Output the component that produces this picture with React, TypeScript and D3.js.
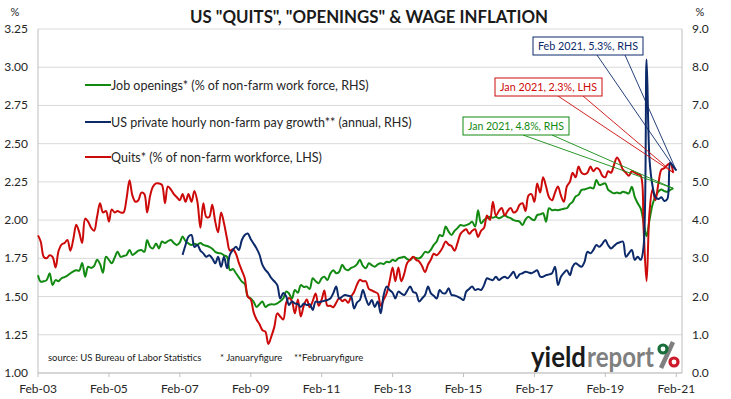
import React from 'react'
import * as d3 from 'd3'

// monthly, Feb 2003 .. Jan 2021 (% of non-farm workforce, LHS)
const quits = [
  1.90, 1.86, 1.76, 1.75, 1.77, 1.76, 1.69, 1.80, 1.84, 1.85, 1.87, 1.80,
  1.88, 1.97, 1.92, 1.85, 2.01, 1.99, 1.95, 1.93, 2.02, 2.11, 2.05, 2.06,
  1.99, 2.07, 2.05, 2.06, 2.05, 2.05, 2.14, 2.26, 2.16, 2.12, 2.13, 2.18,
  2.17, 2.05, 2.16, 2.22, 2.24, 2.24, 2.23, 2.11, 2.22, 2.20, 2.17, 2.15,
  2.13, 2.17, 2.12, 2.17, 2.12, 2.19, 2.12, 1.95, 2.11, 2.02, 2.02, 2.10,
  1.99, 1.92, 2.05, 1.98, 1.88, 1.80, 1.81, 1.78, 1.72, 1.67, 1.62, 1.50,
  1.48, 1.40, 1.35, 1.32, 1.28, 1.27, 1.19, 1.24, 1.30, 1.39, 1.37, 1.35,
  1.46, 1.49, 1.47, 1.39, 1.48, 1.37, 1.44, 1.48, 1.43, 1.47, 1.52, 1.44,
  1.48, 1.54, 1.44, 1.44, 1.43, 1.46, 1.49, 1.47, 1.48, 1.46, 1.50, 1.53,
  1.58, 1.61, 1.60, 1.60, 1.55, 1.54, 1.53, 1.52, 1.44, 1.48, 1.52, 1.60,
  1.69, 1.60, 1.69, 1.60, 1.65, 1.72, 1.74, 1.76, 1.74, 1.73, 1.70, 1.66,
  1.71, 1.74, 1.78, 1.77, 1.79, 1.82, 1.86, 1.84, 1.83, 1.80, 1.85, 1.91,
  1.93, 1.94, 1.91, 1.93, 1.94, 1.89, 1.93, 1.95, 2.03, 2.00, 2.12, 2.03,
  2.06, 2.08, 2.03, 2.06, 2.08, 2.05, 2.06, 2.10, 2.11, 2.06, 2.16, 2.17,
  2.12, 2.24, 2.18, 2.28, 2.22, 2.15, 2.13, 2.18, 2.22, 2.16, 2.12, 2.22,
  2.25, 2.31, 2.28, 2.35, 2.31, 2.30, 2.31, 2.35, 2.32, 2.34, 2.33, 2.29,
  2.28, 2.32, 2.31, 2.36, 2.41, 2.38, 2.33, 2.31, 2.29, 2.32, 2.31, 2.30,
  2.29, 1.95, 1.60, 2.05, 2.20, 2.13, 2.24, 2.33, 2.34, 2.36, 2.37, 2.31,
]

// monthly, Feb 2003 .. Jan 2021 (% of non-farm work force, RHS)
const openings = [
  2.56, 2.39, 2.40, 2.43, 2.61, 2.30, 2.43, 2.40, 2.48, 2.51, 2.55, 2.61,
  2.66, 2.69, 2.68, 2.88, 2.52, 2.78, 2.75, 2.80, 2.96, 2.85, 2.62, 3.04,
  2.96, 2.87, 3.02, 3.17, 3.04, 3.06, 3.09, 3.22, 3.09, 3.14, 3.20, 3.22,
  3.17, 3.48, 3.30, 3.26, 3.39, 3.26, 3.44, 3.40, 3.45, 3.48, 3.40, 3.35,
  3.42, 3.57, 3.45, 3.39, 3.35, 3.38, 3.36, 3.40, 3.35, 3.33, 3.30, 3.25,
  3.17, 3.14, 3.13, 3.08, 3.04, 2.69, 2.72, 2.61, 2.50, 2.39, 2.33, 2.00,
  1.95, 1.87, 1.73, 1.80, 1.87, 1.73, 1.78, 1.80, 1.79, 1.82, 1.88, 1.95,
  2.13, 2.08, 1.95, 2.17, 2.10, 2.30, 2.25, 2.26, 2.20, 2.48, 2.40, 2.35,
  2.48, 2.52, 2.43, 2.60, 2.69, 2.61, 2.65, 2.83, 2.72, 2.69, 2.75, 2.78,
  2.85, 2.96, 2.80, 2.74, 2.87, 2.82, 2.78, 2.84, 2.87, 2.85, 2.91, 2.90,
  2.96, 2.93, 3.00, 3.02, 3.04, 2.98, 2.96, 3.03, 3.01, 3.00, 3.06, 3.17,
  3.15, 3.22, 3.35, 3.44, 3.61, 3.58, 3.83, 3.70, 3.61, 3.72, 3.79, 3.87,
  3.85, 3.87, 3.90, 3.96, 3.83, 4.26, 3.92, 4.00, 4.05, 4.09, 4.06, 4.09,
  4.05, 4.08, 4.13, 4.08, 4.05, 4.00, 3.98, 3.96, 3.87, 4.02, 4.09, 4.03,
  4.00, 4.13, 4.15, 4.18, 3.96, 4.31, 4.26, 4.27, 4.26, 4.28, 4.30, 4.31,
  4.42, 4.48, 4.62, 4.66, 4.79, 4.80, 4.83, 4.85, 4.83, 5.05, 4.92, 4.94,
  4.96, 4.80, 4.74, 4.70, 4.72, 4.70, 4.74, 4.72, 4.70, 4.87, 4.61, 4.44,
  4.30, 3.95, 3.58, 4.00, 4.40, 4.62, 4.75, 4.80, 4.76, 4.74, 4.79, 4.83,
]

// monthly, Mar 2007 .. Feb 2021 (annual %, RHS)
const wages = [
  3.09, 3.35, 3.57, 3.61, 3.30, 3.35, 3.20, 3.13, 3.04, 3.08, 3.00,
  2.87, 3.04, 2.78, 3.04, 2.74, 3.10, 3.22, 3.30, 3.22, 3.48, 3.61, 3.65,
  3.50, 3.39, 3.26, 3.10, 2.83, 2.70, 2.61, 2.48, 2.40, 2.30, 1.95, 2.09,
  2.00, 1.78, 1.87, 1.82, 1.80, 1.73, 1.82, 1.78, 1.80, 1.65, 1.87, 1.85,
  1.87, 1.89, 1.91, 1.95, 2.09, 2.26, 1.95, 2.00, 2.04, 2.02, 2.00, 1.69,
  1.85, 1.91, 2.17, 1.95, 1.78, 1.91, 1.73, 1.87, 1.56, 2.04, 2.26, 2.17,
  2.10, 1.95, 2.13, 2.08, 2.04, 2.15, 2.26, 2.12, 2.09, 1.87, 1.95, 2.04,
  2.26, 2.09, 2.02, 1.95, 2.17, 2.09, 2.09, 2.22, 2.04, 2.03, 2.00, 1.96,
  1.91, 2.13, 2.20, 2.26, 2.17, 2.20, 2.17, 2.30, 2.48, 2.45, 2.43, 2.52,
  2.43, 2.48, 2.52, 2.48, 2.56, 2.65, 2.48, 2.58, 2.61, 2.65, 2.63, 2.61,
  2.65, 2.69, 2.52, 2.52, 2.56, 2.58, 2.61, 2.78, 2.30, 2.52, 2.62, 2.69,
  2.56, 2.78, 2.87, 2.82, 2.78, 2.90, 3.17, 3.13, 3.22, 3.35, 3.30, 3.38,
  3.48, 3.35, 3.26, 3.32, 3.39, 3.42, 3.44, 3.04, 3.13, 3.22, 2.96, 3.04,
  2.96, 3.30, 8.20, 5.60, 4.90, 4.60, 4.55, 4.60, 4.50, 4.55, 5.50, 5.40, 5.30,
]

const tickYears = [2003, 2005, 2007, 2009, 2011, 2013, 2015, 2017, 2019, 2021]
const leftTicks = [1.0, 1.25, 1.5, 1.75, 2.0, 2.25, 2.5, 2.75, 3.0, 3.25]
const rightTicks = [0, 1, 2, 3, 4, 5, 6, 7, 8, 9]

const GREEN = '#128a12'
const BLUE = '#0c2a6a'
const RED = '#cc0a0a'
const FONT = 'Lato, "Open Sans", sans-serif'

const legendItems = [
  { label: 'Job openings* (% of non-farm work force, RHS)', color: GREEN },
  { label: 'US private hourly non-farm pay growth** (annual, RHS)', color: BLUE },
  { label: 'Quits* (% of non-farm workforce, LHS)', color: RED },
]

export default function App() {
  const left = 38, right = 682, top = 29, bottom = 373

  const x = d3.scaleTime()
    .domain([new Date(2003, 1, 1), new Date(2021, 3, 1)])
    .range([left, right])
  const yL = d3.scaleLinear().domain([1, 3.25]).range([bottom, top])
  const yR = d3.scaleLinear().domain([0, 9]).range([bottom, top])

  const monthFrom = (y: number, m: number) => (i: number) => new Date(y, m + i, 1)
  const qDate = monthFrom(2003, 1)
  const wDate = monthFrom(2007, 2)

  const lineQuits = d3.line<number>()
    .x((d, i) => x(qDate(i))).y(d => yL(d)).curve(d3.curveCatmullRom)
  const lineOpen = d3.line<number>()
    .x((d, i) => x(qDate(i))).y(d => yR(d)).curve(d3.curveCatmullRom)
  const lineWages = d3.line<number>()
    .x((d, i) => x(wDate(i))).y(d => yR(d)).curve(d3.curveCatmullRom)

  const fmt1 = d3.format('.1f')
  const tickFmt = d3.timeFormat('%b-%y')

  const qi = quits.length - 1, oi = openings.length - 1, wi = wages.length - 1
  const callouts = [
    {
      text: `Feb 2021, ${fmt1(wages[wi])}%, RHS`, color: BLUE,
      box: [533, 37, 110, 18], base: [597, 625],
      tip: [x(wDate(wi)), yR(wages[wi])],
    },
    {
      text: `Jan 2021, ${fmt1(quits[qi])}%, LHS`, color: RED,
      box: [495, 78, 107, 18], base: [558, 583],
      tip: [x(qDate(qi)), yL(quits[qi])],
    },
    {
      text: `Jan 2021, ${fmt1(openings[oi])}%, RHS`, color: GREEN,
      box: [463, 117, 106, 18], base: [523, 552],
      tip: [x(qDate(oi)), yR(openings[oi])],
    },
  ]

  return (
    <svg width={731} height={399} style={{ position: 'absolute', left: 0, top: 0, background: '#fff' }}
      fontFamily={FONT}>
      <rect x={0} y={0} width={731} height={399} fill="#fff" />

      <text x={369} y={23} textAnchor="middle" fontWeight="bold" fontSize={16.5} fill="#1a1a1a"
        textLength={358} lengthAdjust="spacingAndGlyphs">
        US "QUITS", "OPENINGS" &amp; WAGE INFLATION
      </text>
      <text x={15} y={16} textAnchor="middle" fontSize={11} fill="#262626">%</text>
      <text x={700} y={16} textAnchor="middle" fontSize={11} fill="#262626">%</text>

      {/* gridlines */}
      {leftTicks.map(t => (
        <line key={t} x1={left} x2={right} y1={yL(t)} y2={yL(t)} stroke="#d9d9d9" strokeWidth={1} />
      ))}
      <line x1={left} x2={left} y1={top} y2={bottom} stroke="#bfbfbf" />
      <line x1={right} x2={right} y1={top} y2={bottom} stroke="#bfbfbf" />
      <line x1={left} x2={right} y1={bottom} y2={bottom} stroke="#bfbfbf" />

      {leftTicks.map(t => (
        <text key={t} x={28} y={yL(t) + 4} textAnchor="end" fontSize={12} fill="#262626">{t.toFixed(2)}</text>
      ))}
      {rightTicks.map(t => (
        <text key={t} x={692} y={yR(t) + 4} textAnchor="start" fontSize={12} fill="#262626">{fmt1(t)}</text>
      ))}
      {tickYears.map(yr => {
        const d = new Date(yr, 1, 1)
        return (
          <g key={yr}>
            <line x1={x(d)} x2={x(d)} y1={bottom} y2={bottom + 4} stroke="#bfbfbf" />
            <text x={x(d)} y={393} textAnchor="middle" fontSize={12} fill="#262626">{tickFmt(d)}</text>
          </g>
        )
      })}

      {/* legend */}
      {legendItems.map((it, i) => {
        const ly = [85, 122, 157][i]
        return (
          <g key={it.label}>
            <line x1={85} x2={111} y1={ly} y2={ly} stroke={it.color} strokeWidth={2} />
            <text x={111} y={ly + 4.5} fontSize={12.5} fill="#262626">{it.label}</text>
          </g>
        )
      })}

      {/* source + logo */}
      <text x={48} y={361} fontSize={9.5} fill="#1a1a1a">source: US Bureau of Labor Statistics</text>
      <text x={220} y={361} fontSize={9.5} fill="#1a1a1a">* Januaryfigure</text>
      <text x={294} y={361} fontSize={9.5} fill="#1a1a1a">**Februaryfigure</text>

      <text x={531} y={367} fontSize={29} fontWeight="bold" fill="#1a1a1a"
        textLength={55} lengthAdjust="spacingAndGlyphs">yield</text>
      <text x={587} y={367} fontSize={29} fontWeight="bold" fill="#7f7f7f"
        textLength={67} lengthAdjust="spacingAndGlyphs">report</text>
      <line x1={661} y1={368} x2={673} y2={342} stroke="#7f7f7f" strokeWidth={4.5} />
      <circle cx={663} cy={349} r={4} fill="none" stroke="#1a6e3a" strokeWidth={3.2} />
      <circle cx={674} cy={362} r={4} fill="none" stroke="#cc1a2a" strokeWidth={3.2} />

      {/* series */}
      <path d={lineOpen(openings) || ''} fill="none" stroke={GREEN} strokeWidth={2} />
      <path d={lineQuits(quits) || ''} fill="none" stroke={RED} strokeWidth={2} />
      <path d={lineWages(wages) || ''} fill="none" stroke={BLUE} strokeWidth={2} />

      {/* callouts */}
      {callouts.map(c => {
        const [bx, by, bw, bh] = c.box
        return (
          <g key={c.text}>
            {c.base.map(b => (
              <line key={b} x1={b} y1={by + bh} x2={c.tip[0]} y2={c.tip[1]} stroke={c.color} strokeWidth={0.9} />
            ))}
            <rect x={bx} y={by} width={bw} height={bh} fill="#fff" stroke={c.color} strokeWidth={1} />
            <text x={bx + bw / 2} y={by + bh / 2 + 4} textAnchor="middle" fontSize={11.5} fill={c.color}
              textLength={bw - 10} lengthAdjust="spacingAndGlyphs">{c.text}</text>
          </g>
        )
      })}
    </svg>
  )
}
